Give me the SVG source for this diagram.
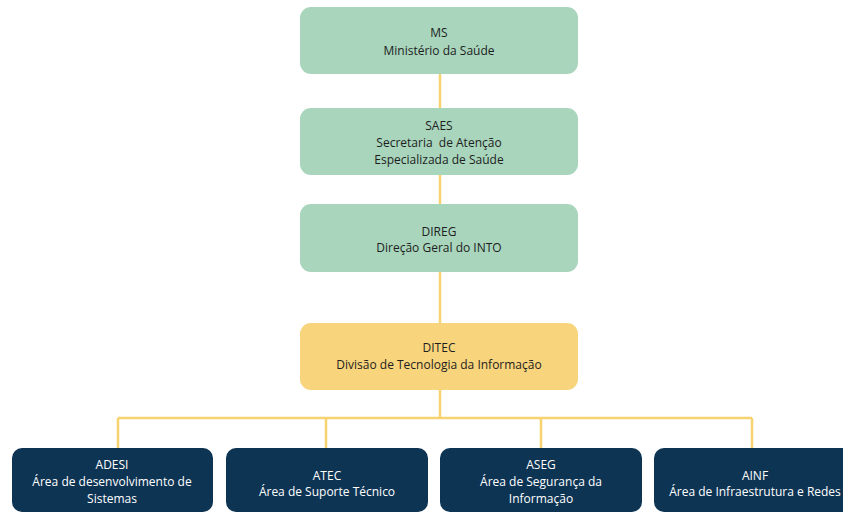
<svg xmlns="http://www.w3.org/2000/svg" width="843" height="513" viewBox="0 0 843 513">
<style>
.g{fill:#A8D5BC}
.y{fill:#F8D47C}
.n{fill:#0E3454}
text{font-family:"Open Sans","Liberation Sans",sans-serif;font-size:12px;text-anchor:middle}
.dk{fill:#1E1E1E}
.wt{fill:#FFFFFF}
.c{stroke:#F6D36F;stroke-width:2.5;fill:none}
</style>
<rect width="843" height="513" fill="#FFFFFF"/>
<g id="connectors">
<path class="c" d="M440 74V108M440 175V204M440 272V323M440 390V418M118 418H752M118 418V448M326 418V448M541 418V448M752 418V448"/>
</g>
<g id="ms">
<rect class="g" x="300" y="7" width="278" height="67" rx="11"/>
<text class="dk" x="439" y="37">MS</text>
<text class="dk" x="439" y="55">Ministério da Saúde</text>
</g>
<g id="saes">
<rect class="g" x="300" y="108" width="278" height="67" rx="11"/>
<text class="dk" x="439" y="130">SAES</text>
<text class="dk" x="439" y="147" xml:space="preserve">Secretaria  de Atenção</text>
<text class="dk" x="439" y="164">Especializada de Saúde</text>
</g>
<g id="direg">
<rect class="g" x="300" y="204" width="278" height="68" rx="11"/>
<text class="dk" x="439" y="236">DIREG</text>
<text class="dk" x="439" y="252">Direção Geral do INTO</text>
</g>
<g id="ditec">
<rect class="y" x="300" y="323" width="278" height="67" rx="11"/>
<text class="dk" x="439" y="352">DITEC</text>
<text class="dk" x="439" y="369">Divisão de Tecnologia da Informação</text>
</g>
<g id="adesi">
<rect class="n" x="12" y="448" width="201" height="64" rx="10"/>
<text class="wt" x="112" y="469">ADESI</text>
<text class="wt" x="112" y="486">Área de desenvolvimento de</text>
<text class="wt" x="112" y="503">Sistemas</text>
</g>
<g id="atec">
<rect class="n" x="226" y="448" width="202" height="64" rx="10"/>
<text class="wt" x="327" y="480">ATEC</text>
<text class="wt" x="327" y="496">Área de Suporte Técnico</text>
</g>
<g id="aseg">
<rect class="n" x="440" y="448" width="202" height="64" rx="10"/>
<text class="wt" x="541" y="469">ASEG</text>
<text class="wt" x="541" y="486">Área de Segurança da</text>
<text class="wt" x="541" y="503">Informação</text>
</g>
<g id="ainf">
<rect class="n" x="654" y="448" width="202" height="64" rx="10"/>
<text class="wt" x="755" y="480">AINF</text>
<text class="wt" x="755" y="496">Área de Infraestrutura e Redes</text>
</g>
</svg>
